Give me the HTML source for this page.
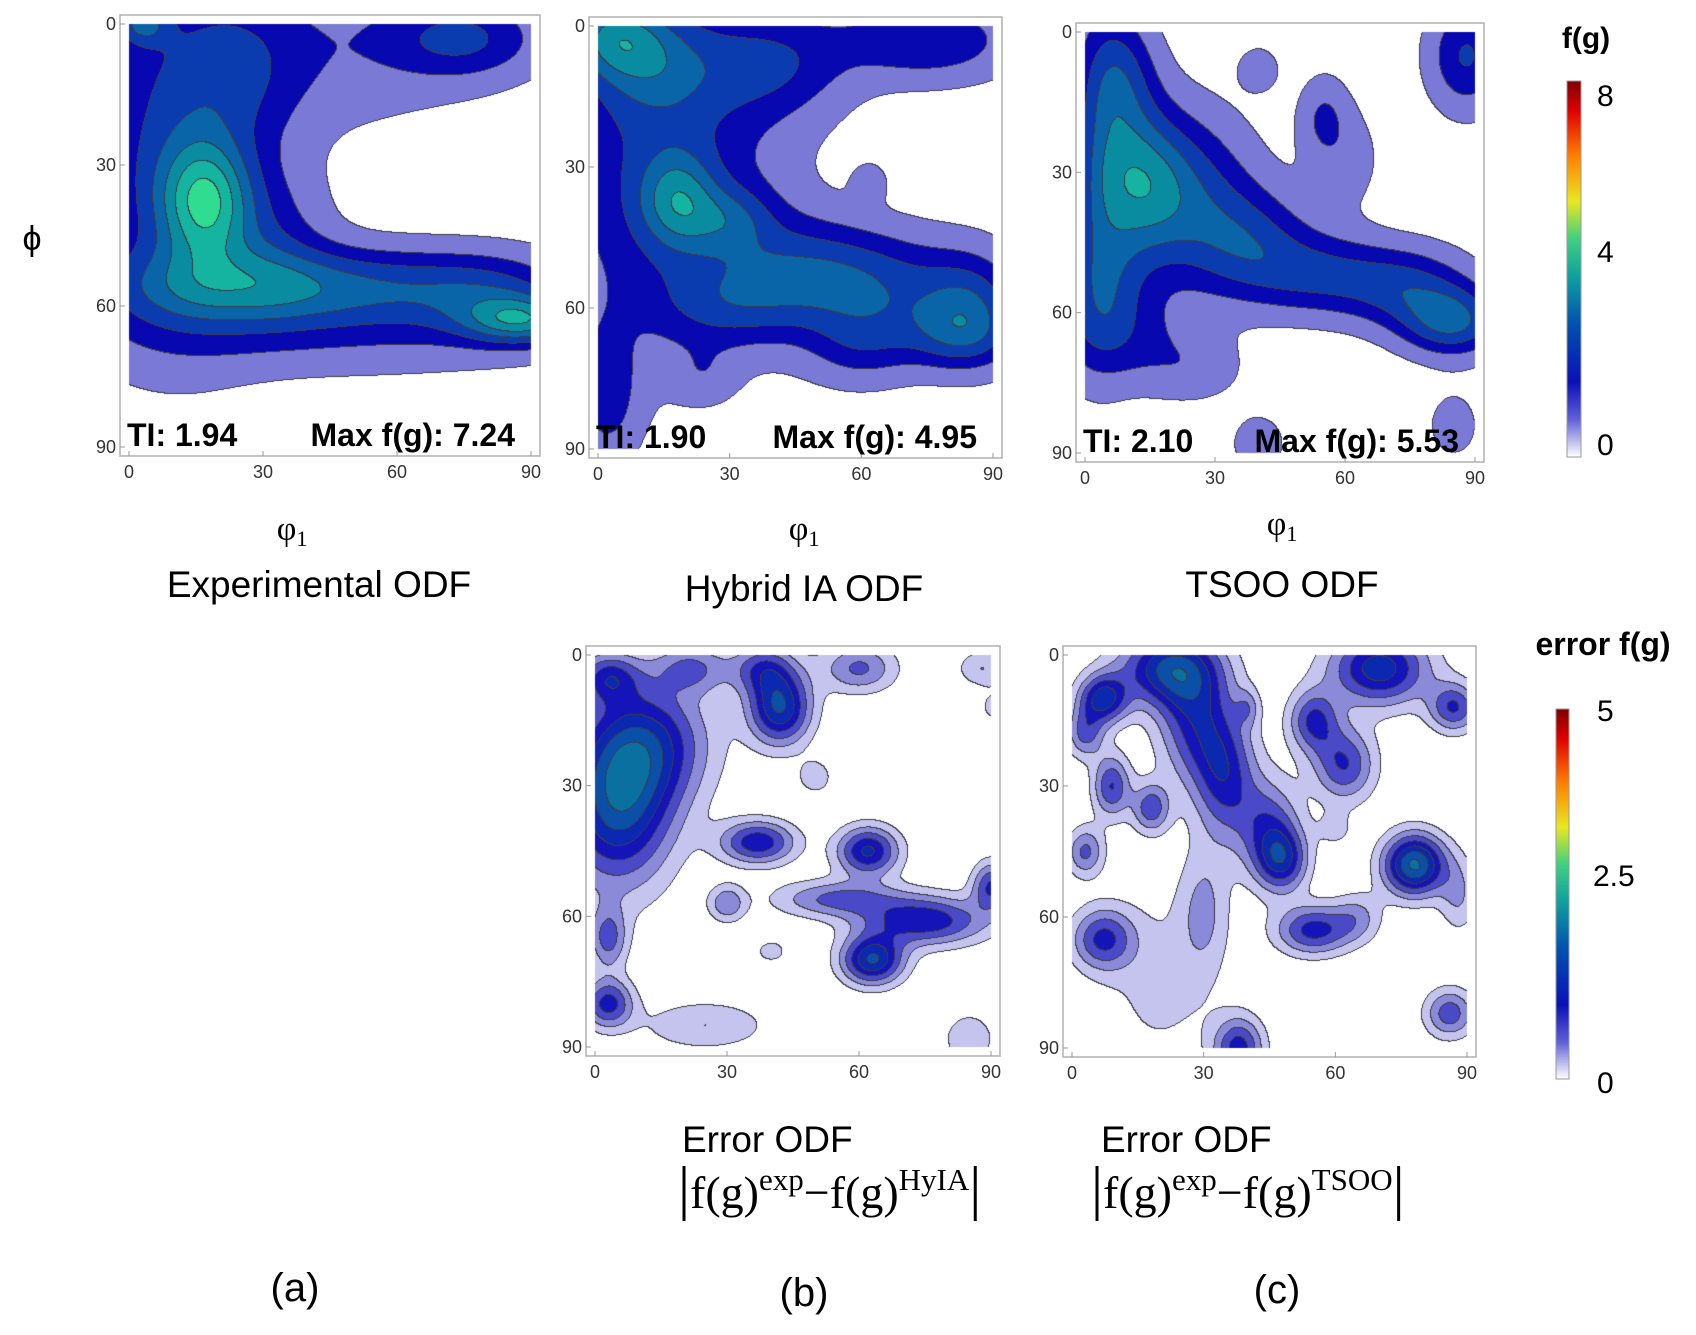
<!DOCTYPE html>
<html><head><meta charset="utf-8"><style>
html,body{margin:0;padding:0;background:#fff;}
#wrap{position:relative;width:1696px;height:1335px;overflow:hidden;font-family:"Liberation Sans",sans-serif;}
canvas,svg{position:absolute;left:0;top:0;}
</style></head><body>
<div id="wrap">
<canvas id="cv" width="1696" height="1335"></canvas>
<svg id="sv" width="1696" height="1335">
<defs>
<linearGradient id="jet" x1="0" y1="1" x2="0" y2="0">
<stop offset="0" stop-color="#ffffff"/><stop offset="0.1" stop-color="#6060d8"/><stop offset="0.2" stop-color="#0a10b8"/><stop offset="0.35" stop-color="#0050b0"/><stop offset="0.48" stop-color="#10a0a0"/><stop offset="0.58" stop-color="#40d080"/><stop offset="0.68" stop-color="#e8e820"/><stop offset="0.8" stop-color="#ff8000"/><stop offset="0.92" stop-color="#e00000"/><stop offset="1" stop-color="#800000"/>
</linearGradient>
</defs>
<g font-family="Liberation Sans, sans-serif" fill="#000">
<text x="32" y="250" font-size="34" text-anchor="middle">ϕ</text>
<text x="292" y="540" font-size="34" text-anchor="middle" font-family="Liberation Serif, serif">φ<tspan font-size="22" dy="6">1</tspan></text>
<text x="804" y="540" font-size="34" text-anchor="middle" font-family="Liberation Serif, serif">φ<tspan font-size="22" dy="6">1</tspan></text>
<text x="1282" y="535" font-size="34" text-anchor="middle" font-family="Liberation Serif, serif">φ<tspan font-size="22" dy="6">1</tspan></text>
<text x="319" y="597" font-size="37" text-anchor="middle">Experimental ODF</text>
<text x="804" y="601" font-size="37" text-anchor="middle">Hybrid IA ODF</text>
<text x="1282" y="597" font-size="37" text-anchor="middle">TSOO ODF</text>
<text x="682" y="1152" font-size="37">Error ODF</text>
<text x="678" y="1208" font-size="46" font-family="Liberation Serif, serif"><tspan font-size="60">|</tspan>f(g)<tspan font-size="31" dy="-18">exp</tspan><tspan dy="18">−f(g)</tspan><tspan font-size="31" dy="-18">HyIA</tspan><tspan font-size="60" dy="18">|</tspan></text>
<text x="1101" y="1152" font-size="37">Error ODF</text>
<text x="1091" y="1208" font-size="46" font-family="Liberation Serif, serif"><tspan font-size="60">|</tspan>f(g)<tspan font-size="31" dy="-18">exp</tspan><tspan dy="18">−f(g)</tspan><tspan font-size="31" dy="-18">TSOO</tspan><tspan font-size="60" dy="18">|</tspan></text>
<text x="295" y="1301" font-size="40" text-anchor="middle">(a)</text>
<text x="804" y="1306" font-size="40" text-anchor="middle">(b)</text>
<text x="1277" y="1303" font-size="40" text-anchor="middle">(c)</text>
<text x="1586" y="48" font-size="30" font-weight="bold" text-anchor="middle">f(g)</text>
<rect x="1567" y="81" width="14" height="376" fill="url(#jet)" stroke="#999" stroke-width="1"/>
<text x="1597" y="106" font-size="30">8</text>
<text x="1597" y="262" font-size="30">4</text>
<text x="1597" y="455" font-size="30">0</text>
<text x="1603" y="655" font-size="32" font-weight="bold" text-anchor="middle">error f(g)</text>
<rect x="1556" y="709" width="13" height="370" fill="url(#jet)" stroke="#999" stroke-width="1"/>
<text x="1597" y="721" font-size="30">5</text>
<text x="1593" y="886" font-size="30">2.5</text>
<text x="1597" y="1093" font-size="30">0</text>
</g>
<g id="axes"></g>
</svg>
</div>
<script>
// blob data: [phi1, Phi, amplitude, spreadPhi1, spreadPhi]
const blobsA=[[17,38,4.6,7,9],[10,28,2.6,14,26],[20,56,2.8,20,6],[50,56,2.5,18,6],[80,57,2.5,14,6],[88,63,3.8,9,3.5],[32,45,1.4,9,10],[45,5,1.2,22,12],[75,3,2.4,12,6],[3,0,2.5,4,3],[45,67,1.1,38,6],[25,10,1.2,10,12]];
const blobsB=[[18,37,2.8,6,7],[30,41,1.8,7,5],[15,30,2.6,18,26],[45,52,2.4,14,8],[65,56,2.4,14,8],[85,60,2.6,8,8],[3,2,3.0,8,6],[12,8,2.0,10,8],[40,8,2.1,12,8],[75,3,2.4,14,6],[60,68,1.6,9,6],[2,78,1.9,5,10],[82,66,1.7,9,5],[62,33,0.8,3,3],[24,74,0.8,5,4],[30,60,1.5,12,6]];
const blobsC=[[12,32,4.0,8,11],[8,10,2.6,6,10],[25,35,2.5,10,12],[38,45,2.4,10,8],[55,52,2.4,12,6],[75,55,2.4,10,6],[85,62,3.4,8,5],[4,55,2.2,8,10],[10,66,1.2,12,7],[88,5,2.6,6,8],[40,8,1.4,3,3],[55,18,1.4,4,6],[60,27,0.9,6,8],[40,88,0.9,5,5],[85,84,0.8,5,6],[25,72,0.9,8,5],[3,30,1.5,5,25]];
const blobsEB=[[5,35,1.5,9,13],[12,20,1.1,10,10],[3,5,0.9,5,4],[22,3,0.7,6,4],[38,3,0.8,5,4],[42,12,1.5,5,6],[60,3,0.8,6,4],[88,3,0.5,4,3],[37,43,1.2,6,3.5],[30,57,0.7,3,3],[62,45,1.3,5,4],[55,56,0.8,10,3],[75,61,1.2,10,4],[90,53,1.0,3,4],[63,70,1.5,5,4],[3,65,0.8,3,5],[3,80,1.1,4,4],[25,85,0.5,10,4],[85,88,0.5,4,4],[50,28,0.4,3,3],[90,12,0.3,2,3],[40,68,0.3,4,3]];
const blobsEC=[[22,3,1.4,8,6],[28,15,1.0,6,10],[35,28,1.0,5,10],[45,40,0.9,5,8],[48,47,1.0,4,5],[7,10,1.3,4,4],[3,18,0.8,3,4],[9,30,1.0,3,5],[18,35,0.9,3,4],[3,45,0.8,3,4],[70,3,1.4,8,6],[55,15,1.0,4,5],[62,25,1.0,5,6],[87,12,1.0,4,4],[78,48,1.8,5,5],[88,55,0.5,3,6],[30,58,0.5,4,10],[20,75,0.32,10,15],[55,63,1.1,6,4],[65,60,0.5,4,4],[7,65,1.0,5,5],[38,90,1.1,4,5],[86,82,0.9,4,4],[60,40,0.3,3,3],[40,12,0.45,2,3]];
const levelsTop=[0.5,1.5,2.5,3.5,4.5,5.5,6.5];
const levelsErr=[0.25,0.5,0.75,1.0,1.25,1.5,1.75];
const tickLabels=["0","30","60","90"];
const tickValues=[0,30,60,90];
const statsText=[["TI: 1.94","Max f(g): 7.24"],["TI: 1.90","Max f(g): 4.95"],["TI: 2.10","Max f(g): 5.53"]];

const colorsTop=["#ffffff","#7a7ad6","#0808b0","#0a3cb0","#0a64a8","#0a8ca0","#14b4a0","#30dc90"];
const colorsErr=["#ffffff","#c4c4ee","#8a8ad8","#4a4ac8","#1414b8","#0a28b0","#0a50a8","#0a70a0"];
const panels=[
 {name:"experimental",x0:129,x1:531,y0:24,y1:447,blobs:blobsA,lv:levelsTop,col:colorsTop,stats:0},
 {name:"hybrid",x0:598,x1:993,y0:26,y1:449,blobs:blobsB,lv:levelsTop,col:colorsTop,stats:1},
 {name:"tsoo",x0:1085,x1:1475,y0:32,y1:453,blobs:blobsC,lv:levelsTop,col:colorsTop,stats:2},
 {name:"error-hybrid",x0:595,x1:991,y0:655,y1:1047,blobs:blobsEB,lv:levelsErr,col:colorsErr},
 {name:"error-tsoo",x0:1072,x1:1467,y0:655,y1:1048,blobs:blobsEC,lv:levelsErr,col:colorsErr}
];
function field(bl,x,y){let s=0;for(const b of bl){const dx=(x-b[0])/b[3],dy=(y-b[1])/b[4];s+=b[2]*Math.exp(-0.5*(dx*dx+dy*dy));}return s;}
function hex(c){return [parseInt(c.substr(1,2),16),parseInt(c.substr(3,2),16),parseInt(c.substr(5,2),16)];}
const ctx=document.getElementById('cv').getContext('2d');
const NS="http://www.w3.org/2000/svg";
const axes=document.getElementById('axes');
function mk(tag,at,txt){const e=document.createElementNS(NS,tag);for(const k in at)e.setAttribute(k,at[k]);if(txt!==undefined)e.textContent=txt;axes.appendChild(e);return e;}
panels.forEach(p=>{
 const W=p.x1-p.x0,H=p.y1-p.y0;
 const sx=v=>p.x0+v/90*W, sy=v=>p.y0+v/90*H;
 const lvl=new Int8Array(W*H);
 for(let j=0;j<H;j++)for(let i=0;i<W;i++){const f=field(p.blobs,i/W*90,j/H*90);let k=0;while(k<p.lv.length&&f>=p.lv[k])k++;lvl[j*W+i]=k;}
 const img=ctx.createImageData(W,H);const cols=p.col.map(hex);
 for(let j=0;j<H;j++)for(let i=0;i<W;i++){const id=j*W+i;let c=cols[lvl[id]];
  const r=i<W-1?lvl[id+1]:lvl[id],d=j<H-1?lvl[id+W]:lvl[id];
  if(r!==lvl[id]||d!==lvl[id])c=[60,60,70];
  img.data[id*4]=c[0];img.data[id*4+1]=c[1];img.data[id*4+2]=c[2];img.data[id*4+3]=255;}
 ctx.putImageData(img,p.x0,p.y0);
 const fr=mk('rect',{x:p.x0-9,y:p.y0-9,width:W+18,height:H+18,fill:'none',stroke:'#b0b0b0','stroke-width':1.5});
 
 
 tickValues.forEach((v,k)=>{
  const tx=mk('text',{x:sx(v),y:p.y1+9+22,'font-size':18,'text-anchor':'middle',fill:'#333'},tickLabels[k]);
  
  
  const ty=mk('text',{x:p.x0-13,y:sy(v)+6,'font-size':18,'text-anchor':'end',fill:'#333'},tickLabels[k]);
  
  
  mk('line',{x1:sx(v),x2:sx(v),y1:p.y1+9,y2:p.y1+4,stroke:'#999'});
  mk('line',{x1:p.x0-9,x2:p.x0-4,y1:sy(v),y2:sy(v),stroke:'#999'});
 });
 if(p.stats!==undefined){
  const s=statsText[p.stats];
  const t1=mk('text',{x:p.x0-2,y:p.y1-1,'font-size':32,'font-weight':'bold',fill:'#000'},s[0]);
  
  
  const t2=mk('text',{x:p.x1-16,y:p.y1-1,'font-size':32,'font-weight':'bold','text-anchor':'end',fill:'#000'},s[1]);
  
  
 }
});
</script>
</body></html>
